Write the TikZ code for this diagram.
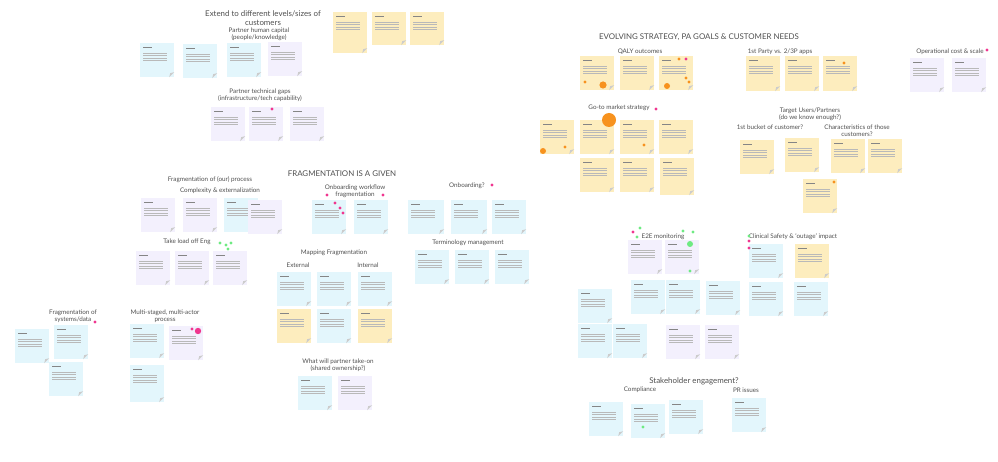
\documentclass[tikz,border=0pt]{standalone}
\usepackage{fontspec}
\setmainfont{Lato}
\usepackage{xcolor}

\definecolor{noteblue}{HTML}{E3F6FC}
\definecolor{notelav}{HTML}{F3F0FD}
\definecolor{noteyellow}{HTML}{FDEDBE}
\definecolor{dotpink}{HTML}{F0368F}
\definecolor{dotorange}{HTML}{F7921E}
\definecolor{dotgreen}{HTML}{6EEA82}
\definecolor{inkgray}{HTML}{505050}

\tikzset{
    note/.style={
        rectangle,
        anchor=north west,
        inner sep=0pt,
        minimum width=34pt,
        minimum height=34pt,
        path picture={
            \draw[inkgray!70, line width=0.3pt]
                ([shift={(3pt,-4pt)}]path picture bounding box.north west) -- ++(9pt,0);
            \foreach \k in {1,...,4}
                \draw[inkgray!40, line width=0.3pt]
                    ([shift={(3pt,-7pt-2.6pt*\k)}]path picture bounding box.north west) -- ++(24pt,0);
            \fill[gray!40]
                ([shift={(-5pt,0pt)}]path picture bounding box.south east) --
                ([shift={(0pt,5pt)}]path picture bounding box.south east) --
                ([shift={(-4pt,4pt)}]path picture bounding box.south east) -- cycle;
        }
    },
    bluenote/.style={note, fill=noteblue},
    lavnote/.style={note, fill=notelav},
    yellownote/.style={note, fill=noteyellow},
    head/.style={font=\fontsize{7.9}{9}\selectfont, text=inkgray, align=center},
    sub/.style={font=\fontsize{6.3}{7.3}\selectfont, text=inkgray, align=center}
}

\begin{document}
\begin{tikzpicture}[x=1pt, y=-1pt]

\fill[white] (0,0) rectangle (998,462);
\useasboundingbox (0,0) rectangle (998,462);

% left board: headings
\node[head] (extend) at (263,18) {Extend to different levels/sizes of\\customers};
\node[sub] (humancap) at (259,34) {Partner human capital\\(people/knowledge)};
\node[sub] (techgaps) at (260,95) {Partner technical gaps\\(infrastructure/tech capability)};
\node[sub] (ourproc) at (210,180) {Fragmentation of (our) process};
\node[sub] (complex) at (220,191) {Complexity \& externalization};
\node[sub] (loadoff) at (187,242) {Take load off Eng};
\node[head] (given) at (342,174) {FRAGMENTATION IS A GIVEN};
\node[sub] (onbflow) at (355,191) {Onboarding workflow\\fragmentation};
\node[sub] (onbq) at (467,186) {Onboarding?};
\node[sub] (termmgmt) at (468,243) {Terminology management};
\node[sub] (mapping) at (334,253) {Mapping Fragmentation};
\node[sub] (external) at (298,265) {External};
\node[sub] (internal) at (368,265) {Internal};
\node[sub] (takeon) at (338,365) {What will partner take-on\\(shared ownership?)};
\node[sub] (sysdata) at (73,316) {Fragmentation of\\systems/data};
\node[sub] (multi) at (165,316) {Multi-staged, multi-actor\\process};

% right board: headings
\node[head] (evolving) at (699,37) {EVOLVING STRATEGY, PA GOALS \& CUSTOMER NEEDS};
\node[sub] (qaly) at (640,52) {QALY outcomes};
\node[sub] (party) at (780,52) {1st Party vs. 2/3P apps};
\node[sub] (opcost) at (950,52) {Operational cost \& scale};
\node[sub] (gotomkt) at (619,108) {Go-to market strategy};
\node[sub] (target) at (810,114) {Target Users/Partners\\(do we know enough?)};
\node[sub] (bucket) at (770,127) {1st bucket of customer?};
\node[sub] (traits) at (857,131) {Characteristics of those\\customers?};
\node[sub] (etoe) at (663,237) {E2E monitoring};
\node[sub] (safety) at (793,237) {Clinical Safety \& `outage' impact};
\node[head] (stake) at (694,381) {Stakeholder engagement?};
\node[sub] (compl) at (640,390) {Compliance};
\node[sub] (prissues) at (746,390) {PR issues};

% notes: partner capital and tech gaps
\node[bluenote] (hc1) at (140,43) {};
\node[bluenote] (hc2) at (183,44) {};
\node[bluenote] (hc3) at (227,43) {};
\node[lavnote] (hc4) at (268,42) {};
\node[yellownote, minimum height=41pt] (yt1) at (333,12) {};
\node[yellownote, minimum height=33pt] (yt2) at (372,12) {};
\node[yellownote, minimum height=33pt] (yt3) at (410,12) {};
\node[lavnote] (tg1) at (211,107) {};
\node[lavnote] (tg2) at (249,107) {};
\node[lavnote] (tg3) at (290,107) {};

% notes: our process
\node[lavnote] (cx1) at (141,198) {};
\node[lavnote] (cx2) at (183,198) {};
\node[bluenote] (cx3) at (224,198) {};
\node[lavnote] (cx4) at (248,200) {};
\node[lavnote] (te1) at (136,251) {};
\node[lavnote] (te2) at (175,251) {};
\node[lavnote] (te3) at (213,251) {};

% notes: onboarding, terminology, mapping
\node[bluenote] (ow1) at (312,200) {};
\node[bluenote] (ow2) at (354,200) {};
\node[bluenote, minimum width=36pt] (ob1) at (408,200) {};
\node[bluenote, minimum width=36pt] (ob2) at (451,200) {};
\node[bluenote] (ob3) at (492,200) {};
\node[bluenote] (tm1) at (415,250) {};
\node[bluenote] (tm2) at (455,250) {};
\node[bluenote] (tm3) at (495,250) {};
\node[bluenote] (mp1) at (277,272) {};
\node[bluenote] (mp2) at (317,272) {};
\node[bluenote] (mp3) at (358,272) {};
\node[yellownote] (mp4) at (277,309) {};
\node[bluenote] (mp5) at (317,309) {};
\node[yellownote] (mp6) at (358,309) {};
\node[bluenote] (pt1) at (298,376) {};
\node[lavnote] (pt2) at (338,376) {};

% notes: systems and multi-actor
\node[bluenote] (sd1) at (15,329) {};
\node[bluenote] (sd2) at (54,325) {};
\node[bluenote] (sd3) at (49,362) {};
\node[bluenote] (ms1) at (130,324) {};
\node[lavnote] (ms2) at (169,326) {};
\node[bluenote, minimum height=37pt] (ms3) at (130,365) {};

% notes: strategy board
\node[yellownote] (qa1) at (580,56) {};
\node[yellownote] (qa2) at (620,56) {};
\node[yellownote] (qa3) at (659,56) {};
\node[yellownote, minimum height=35pt] (fp1) at (746,56) {};
\node[yellownote, minimum height=35pt] (fp2) at (785,56) {};
\node[yellownote, minimum height=35pt] (fp3) at (823,56) {};
\node[lavnote] (oc1) at (910,58) {};
\node[lavnote] (oc2) at (952,58) {};
\node[yellownote] (gm1) at (540,120) {};
\node[yellownote] (gm2) at (580,120) {};
\node[yellownote] (gm3) at (620,120) {};
\node[yellownote] (gm4) at (659,120) {};
\node[yellownote] (gm5) at (580,158) {};
\node[yellownote] (gm6) at (620,158) {};
\node[yellownote, minimum height=37pt] (gm7) at (660,158) {};
\node[yellownote] (tu1) at (740,140) {};
\node[yellownote] (tu2) at (785,138) {};
\node[yellownote] (tu3) at (831,139) {};
\node[yellownote] (tu4) at (868,139) {};
\node[yellownote] (tu5) at (803,179) {};

% notes: monitoring and safety
\node[lavnote] (em1) at (628,240) {};
\node[lavnote] (em2) at (665,240) {};
\node[bluenote] (em3) at (631,280) {};
\node[bluenote] (em4) at (666,280) {};
\node[bluenote] (em5) at (706,281) {};
\node[bluenote] (em6) at (578,289) {};
\node[bluenote] (em7) at (578,324) {};
\node[bluenote] (em8) at (613,324) {};
\node[lavnote] (em9) at (666,325) {};
\node[lavnote] (em10) at (705,325) {};
\node[bluenote] (cs1) at (749,244) {};
\node[yellownote] (cs2) at (795,244) {};
\node[bluenote] (cs3) at (749,282) {};
\node[bluenote] (cs4) at (794,282) {};

% notes: stakeholders
\node[bluenote] (cp1) at (589,402) {};
\node[bluenote] (cp2) at (631,404) {};
\node[bluenote] (cp3) at (669,400) {};
\node[bluenote] (pr1) at (732,398) {};

% voting dots
\foreach \p in {(272,109),(327,195),(335,203),(340,208),(343,213),(383,195),(492,185),
                (95,322),(192,329),(686,59),(656,109),(987,50),(633,232),(749,241),(749,248)}
    \fill[dotpink] \p circle (1.6);
\fill[dotpink] (198,331) circle (3.2);
\foreach \p in {(585,82),(679,59),(686,78),(689,82),(565,147),(644,145),(834,182),(844,63)}
    \fill[dotorange] \p circle (1.6);
\fill[dotorange] (603,85) circle (3.6);
\fill[dotorange] (667,86) circle (3);
\fill[dotorange] (543,151) circle (3);
\fill[dotorange] (609,120) circle (7);
\foreach \p in {(220,243),(226,245),(231,243),(228,249),(640,228),(637,237),(683,231),
                (693,232),(690,271),(749,236),(643,427)}
    \fill[dotgreen] \p circle (1.6);
\fill[dotgreen] (690,244) circle (3);

\end{tikzpicture}
\end{document}
